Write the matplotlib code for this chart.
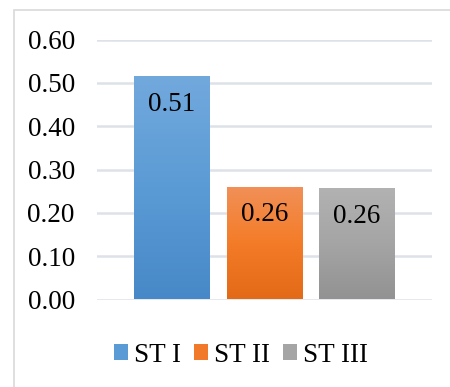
import matplotlib
matplotlib.use("Agg")
import matplotlib.pyplot as plt
import numpy as np
from matplotlib.colors import LinearSegmentedColormap
from matplotlib.patches import Rectangle, Patch

series = ["ST I", "ST II", "ST III"]
values = [0.515, 0.26, 0.257]
labels = ["0.51", "0.26", "0.26"]
yticks = [0.0, 0.1, 0.2, 0.3, 0.4, 0.5, 0.6]
ytick_labels = ["0.00", "0.10", "0.20", "0.30", "0.40", "0.50", "0.60"]

gradients = [
    ["#4788C8", "#5B9BD5", "#72A9DD"],
    ["#E36B17", "#F47C28", "#F19058"],
    ["#929292", "#A5A5A5", "#B2B2B2"],
]
legend_colors = ["#5B9BD5", "#F07A2A", "#A5A5A5"]

FS = 19.5
plt.rcParams['font.family'] = ['Liberation Serif', 'DejaVu Serif']
W, H = 450, 387
fig = plt.figure(figsize=(W / 100, H / 100), dpi=100)

# chart border
fig.patches.append(Rectangle((14 / W, -0.1), 1.2, 1 - 10 / H + 0.1,
                             transform=fig.transFigure, fill=False,
                             edgecolor="#D9D9D9", linewidth=1.2, zorder=0))

ax = fig.add_axes([97 / W, 87.5 / H, 335 / W, 260 / H])
ax.set_xlim(-0.81, 2.81)
ax.set_ylim(0, 0.6)
for s in ax.spines.values():
    s.set_visible(False)
ax.set_xticks([])
ax.set_yticks(yticks)
ax.set_yticklabels(ytick_labels, fontsize=FS)
ax.tick_params(axis="y", length=0, pad=16)
ax.yaxis.grid(True, color="#DDE1E8", linewidth=1.8)
ax.set_axisbelow(True)

x = np.arange(len(series))
bars = ax.bar(x, values, width=0.82, color="none", edgecolor="none", zorder=2)
for b, cols, lab in zip(bars, gradients, labels):
    cmap = LinearSegmentedColormap.from_list("g", cols)
    x0, y0 = b.get_x(), b.get_y()
    w, h = b.get_width(), b.get_height()
    grad = np.linspace(0, 1, 256).reshape(-1, 1)
    im = ax.imshow(grad, cmap=cmap, aspect="auto", origin="lower",
                   extent=[x0, x0 + w, y0, y0 + h], zorder=2)
    im.set_clip_path(b)
    ax.annotate(lab, (x0 + w / 2, y0 + h), xytext=(0, -28),
                textcoords="offset pixels", ha="center", va="center",
                fontsize=FS, color="#000000", zorder=3)
ax.set_xlim(-0.81, 2.81)
ax.set_ylim(0, 0.6)

handles = [Patch(facecolor=c, edgecolor="none") for c in legend_colors]
fig.legend(handles, series, loc="center", bbox_to_anchor=(241 / W, 1 - 355 / H),
           ncol=3, frameon=False, fontsize=FS, handlelength=0.52,
           handleheight=0.52, handletextpad=0.2, columnspacing=0.5,
           borderpad=0, borderaxespad=0)

fig.savefig("out.png", dpi=100)
